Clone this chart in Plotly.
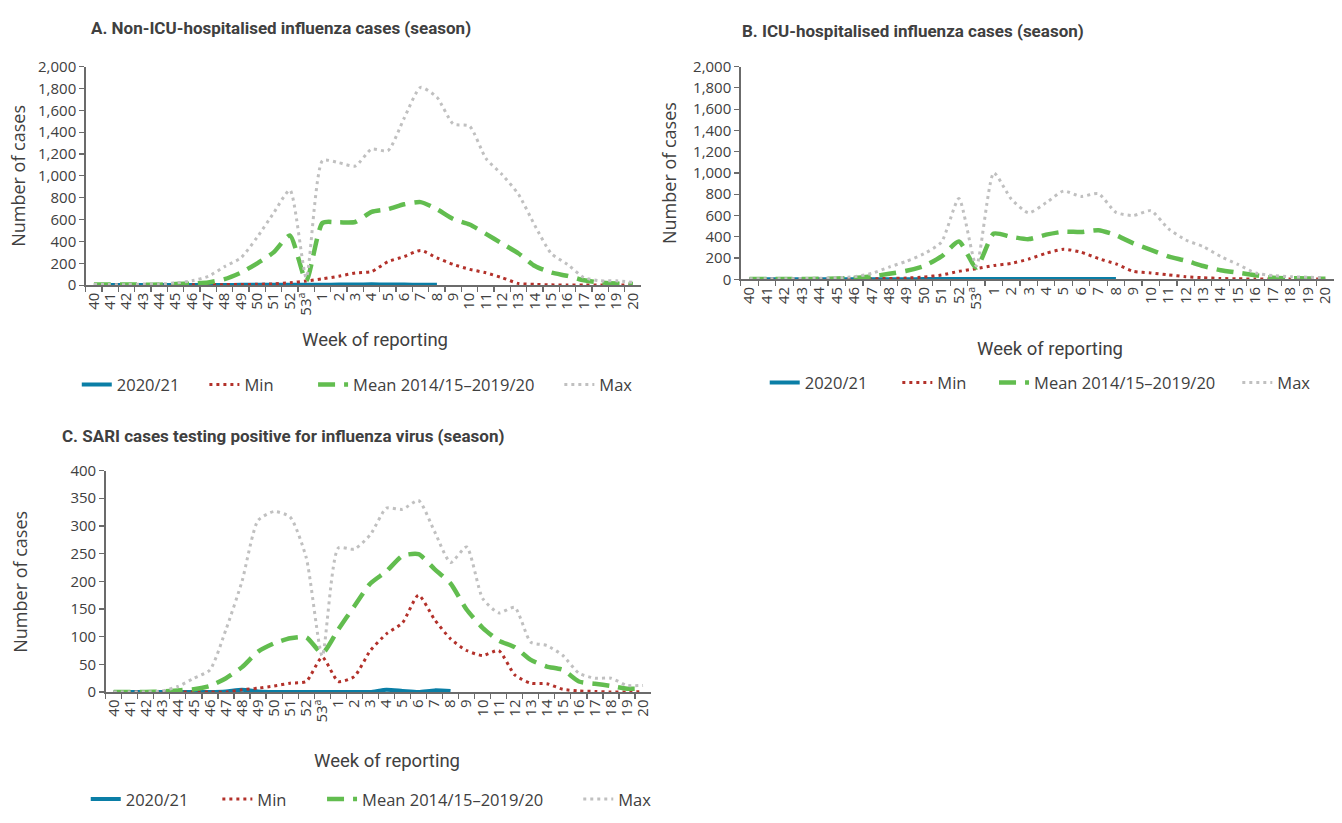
import plotly.graph_objects as go

W, H = 1342, 823

weeks = [str(w) for w in range(40, 54)] + [str(w) for w in range(1, 21)]
week_labels = [("53<sup>a</sup>" if w == "53" else w) for w in weeks]
weeks_2021 = weeks[:22]  # weeks 40 to 8

series_names = ["2020/21", "Min", "Mean 2014/15\u20132019/20", "Max"]

# Panel A: non-ICU-hospitalised influenza cases
A_2021 = [1, 1, 1, 1, 1, 2, 2, 2, 2, 3, 3, 3, 4, 4, 4, 5, 6, 8, 6, 5, 4, 4]
A_min = [1, 1, 1, 1, 2, 3, 4, 5, 5, 6, 8, 12, 22, 38,
         58, 82, 112, 125, 215, 262, 318, 250, 190, 145, 113, 68, 15, 8, 3, 2, 2, 2, 2, 2]
A_mean = [5, 5, 5, 5, 5, 10, 15, 25, 55, 115, 200, 300, 455, 40,
          570, 575, 578, 670, 695, 740, 760, 695, 605, 555, 470, 380, 290, 175, 115, 85, 45, 25, 15, 10]
A_max = [5, 5, 5, 10, 10, 20, 40, 80, 170, 250, 440, 660, 870, 70,
         1140, 1120, 1090, 1245, 1230, 1530, 1810, 1720, 1475, 1455, 1160, 1010, 830, 545, 290, 190, 70, 40, 40, 25]

# Panel B: ICU-hospitalised influenza cases
B_2021 = [0, 0, 0, 0, 0, 1, 1, 1, 1, 1, 2, 2, 2, 2, 2, 2, 3, 3, 2, 2, 2, 2]
B_min = [1, 1, 1, 1, 2, 2, 3, 5, 8, 12, 22, 40, 75, 100,
         130, 150, 190, 245, 283, 255, 195, 145, 75, 60, 42, 25, 15, 8, 5, 3, 2, 2, 2, 2]
B_mean = [3, 3, 3, 3, 5, 8, 12, 28, 52, 80, 125, 215, 355, 110,
          430, 400, 378, 420, 448, 445, 462, 415, 338, 277, 215, 175, 125, 86, 62, 38, 15, 10, 8, 5]
B_max = [5, 5, 5, 8, 10, 15, 25, 55, 115, 170, 240, 350, 760, 125,
         1000, 755, 625, 720, 830, 780, 805, 630, 600, 645, 477, 370, 308, 215, 140, 60, 35, 25, 20, 15]

# Panel C: SARI cases testing positive for influenza virus
C_2021 = [0, 0, 0, 0, 0, 0, 0, 1, 4, 1, 0, 0, 0, 0, 0, 0, 0, 4, 2, 0, 3, 2]
C_min = [0, 0, 0, 0, 0, 0, 0, 0, 4, 7, 11, 16, 19, 63,
         19, 28, 75, 105, 125, 175, 131, 96, 75, 66, 75, 31, 16, 15, 5, 2, 1, 0, 0, 1]
C_mean = [0, 0, 0, 1, 3, 5, 11, 25, 45, 73, 88, 97, 99, 70,
          113, 155, 196, 218, 246, 249, 222, 196, 149, 116, 93, 81, 58, 46, 40, 19, 15, 11, 6, 6]
C_max = [0, 0, 0, 2, 10, 25, 40, 113, 200, 310, 326, 316, 243, 65,
         260, 258, 284, 332, 330, 346, 290, 234, 262, 169, 143, 153, 90, 84, 66, 34, 25, 25, 12, 12]

colors = ["#0a7ea6", "#b3312a", "#62bd4f", "#c0c0c0"]
dashes = ["solid", "3px,4px", "17px,9px", "3px,4px"]
widths = [4, 3, 4.5, 3]

TXT = "#404040"
AX = "#6b6b6b"
FONT = "Open Sans, Noto Sans, sans-serif"
TFONT = "Liberation Sans Narrow, Roboto, sans-serif"
BFONT = "Roboto, sans-serif"

def px(x):
    return x / W

def py(y):
    return 1 - y / H

panels = [
    dict(key="", data=[A_2021, A_min, A_mean, A_max], x0=83, x1=640, ytop=57, ybot=281,
         yr=2000, dt=200, title="A. Non-ICU-hospitalised influenza cases (season)", tx=86, ty=17,
         xt=(373, 337), yt=(15, 169), leg_y=383, leg_x=[81, 209, 318, 565]),
    dict(key="2", data=[B_2021, B_min, B_mean, B_max], x0=740, x1=1335, ytop=57, ybot=275,
         yr=2000, dt=200, title="B. ICU-hospitalised influenza cases (season)", tx=739, ty=20,
         xt=(1050, 346), yt=(668, 166), leg_y=381, leg_x=[771, 904, 1001, 1245]),
    dict(key="3", data=[C_2021, C_min, C_mean, C_max], x0=103, x1=650, ytop=471, ybot=698,
         yr=400, dt=50, title="C. SARI cases testing positive for influenza virus (season)", tx=57, ty=436,
         xt=(385, 769), yt=(17, 585), leg_y=808, leg_x=[90, 222, 327, 584]),
]

fig = go.Figure()
annotations = []
layout = {}
leg_idx = 0
for p in panels:
    k = p["key"]
    xa = "x" + k
    ya = "y" + k
    for i, (vals, name) in enumerate(zip(p["data"], series_names)):
        leg_idx += 1
        lname = "legend" if leg_idx == 1 else f"legend{leg_idx}"
        xs = weeks_2021 if i == 0 else weeks
        fig.add_trace(go.Scatter(
            x=xs, y=vals, name=name, mode="lines", xaxis=xa, yaxis=ya,
            line=dict(color=colors[i], width=widths[i], dash=dashes[i], shape="spline", smoothing=0.6),
            cliponaxis=False, legend=lname, showlegend=True, hoverinfo="skip"))
        layout[lname] = dict(
            x=px(p["leg_x"][i] - 7), y=py(p["leg_y"]), xanchor="left", yanchor="middle",
            orientation="h", bgcolor="rgba(0,0,0,0)", borderwidth=0,
            font=dict(family=FONT, size=16.5, color=TXT), itemwidth=30)
    layout["xaxis" + k] = dict(
        domain=[px(p["x0"]), px(p["x1"])], anchor=ya, type="category",
        categoryorder="array", categoryarray=weeks, range=[-0.5, 33.5],
        tickmode="array", tickvals=weeks, ticktext=week_labels, tickangle=-90,
        showline=True, linecolor=AX, linewidth=1.5, ticks="outside", ticklen=5,
        tickcolor=AX, tickwidth=1.2, tickson="boundaries", showgrid=False, zeroline=False,
        tickfont=dict(family=FONT, size=15, color=TXT), fixedrange=True)
    layout["yaxis" + k] = dict(
        domain=[py(p["ybot"]), py(p["ytop"])], anchor=xa, range=[0, p["yr"]],
        dtick=p["dt"], tickformat=",", showline=True, linecolor=AX, linewidth=1.5,
        ticks="outside", ticklen=5, tickcolor=AX, tickwidth=1.2, showgrid=False,
        zeroline=False, tickfont=dict(family=FONT, size=15, color=TXT), fixedrange=True)
    annotations.append(dict(text="<b>" + p["title"] + "</b>", x=px(p["tx"]), y=py(p["ty"]),
                            xref="paper", yref="paper", xanchor="left", yanchor="middle",
                            showarrow=False, font=dict(family=BFONT, size=17, color=TXT)))
    annotations.append(dict(text="Week of reporting", x=px(p["xt"][0]), y=py(p["xt"][1]),
                            xref="paper", yref="paper", xanchor="center", yanchor="middle",
                            showarrow=False, font=dict(family=TFONT, size=18.5, color=TXT)))
    annotations.append(dict(text="Number of cases", x=px(p["yt"][0]), y=py(p["yt"][1]),
                            xref="paper", yref="paper", xanchor="center", yanchor="middle",
                            textangle=-90, showarrow=False,
                            font=dict(family=FONT, size=18, color=TXT)))

fig.update_layout(
    width=W, height=H, margin=dict(l=0, r=0, t=0, b=0),
    paper_bgcolor="white", plot_bgcolor="white",
    annotations=annotations, **layout)

fig.write_html(
    "out.html",
    config={"displayModeBar": False, "staticPlot": True},
    post_script="document.body.style.margin='0';document.body.style.overflow='hidden';")
